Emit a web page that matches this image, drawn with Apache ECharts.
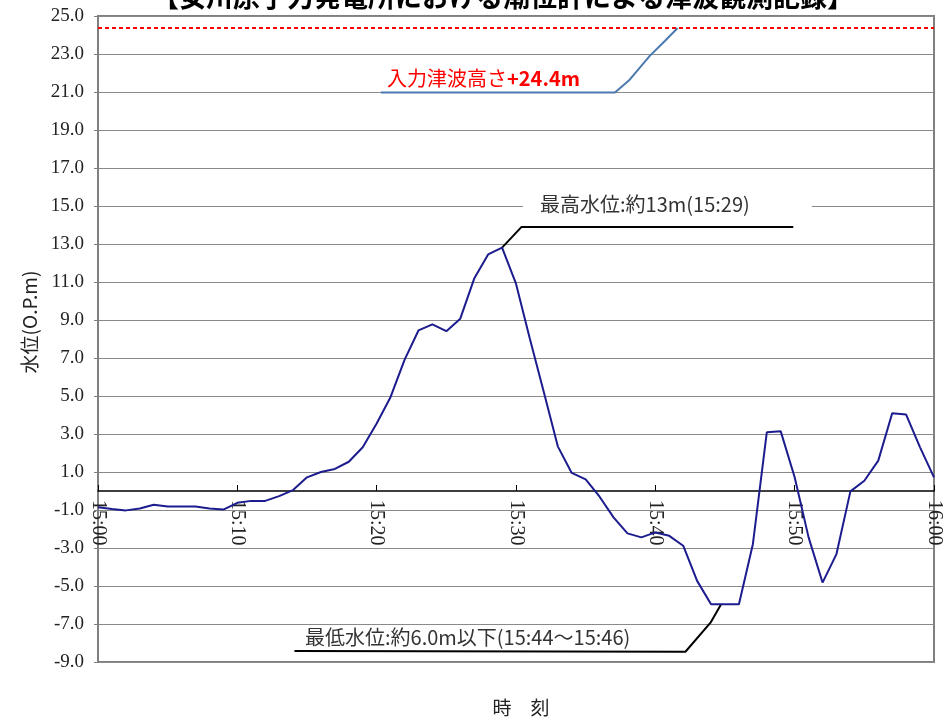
<!DOCTYPE html>
<html><head><meta charset="utf-8">
<script src="https://cdn.jsdelivr.net/npm/echarts@6/dist/echarts.min.js"></script>
<style>html,body{margin:0;padding:0;background:#fff}#c{width:945px;height:720px}</style>
</head><body><div id="c"></div>
<script>
// observed water level (O.P.m) every minute from 15:00 to 16:00
const minutes = [0,1,2,3,4,5,6,7,8,9,10,11,12,13,14,15,16,17,18,19,20,21,22,23,24,25,26,27,28,29,30,31,32,33,34,35,36,37,38,39,40,41,42,43,44,45,46,47,48,49,50,51,52,53,54,55,56,57,58,59,60];
const levels = [-0.85,-0.95,-1.02,-0.92,-0.72,-0.82,-0.82,-0.82,-0.92,-0.98,-0.62,-0.52,-0.52,-0.27,0.05,0.72,1.0,1.16,1.54,2.3,3.55,4.95,6.9,8.45,8.77,8.41,9.07,11.18,12.45,12.81,10.91,8.0,5.2,2.35,0.95,0.61,-0.3,-1.39,-2.23,-2.44,-2.18,-2.36,-2.88,-4.73,-5.96,-5.96,-5.96,-2.8,3.09,3.14,0.72,-2.44,-4.82,-3.32,-0.02,0.54,1.6,4.09,4.02,2.3,0.72];
const tickLabels = ['15:00','15:10','15:20','15:30','15:40','15:50','16:00'];
const yTicks = {min: -9, max: 25, step: 2};
// input tsunami height schematic
const inputMinutes = [20.3, 37.1, 38.1, 39.6, 40.7, 41.6];
const inputLevels = [20.97, 20.97, 21.6, 22.9, 23.7, 24.37];
const inputTsunamiHeight = 24.4;
// annotation leader lines
const maxLeaderMinutes = [29.0, 30.4, 49.9];
const maxLeaderLevels = [12.81, 13.9, 13.9];
const minLeaderMinutes = [44.7, 43.96, 42.16, 14.1];
const minLeaderLevels = [-5.99, -6.93, -8.46, -8.42];

const zip = (a, b) => a.map((v, i) => [v, b[i]]);
const CJK = 'Noto Sans CJK JP';
const SERIF = 'Liberation Serif';

const W = 945, H = 720;
const gridBox = {left: 98, right: 11, top: 16, bottom: 58};
const plotH = H - gridBox.top - gridBox.bottom;
// place x axis on the zero line
const xOffset = -plotH * (0 - yTicks.min) / (yTicks.max - yTicks.min);

const chart = echarts.init(document.getElementById('c'), null, {renderer: 'canvas'});
chart.setOption({
  animation: false,
  backgroundColor: '#fff',
  grid: Object.assign({show: true, borderColor: '#808080', borderWidth: 2, backgroundColor: 'transparent'}, gridBox),
  xAxis: {
    type: 'value', min: 0, max: 60, interval: 10, position: 'bottom', offset: xOffset,
    axisLine: {show: true, onZero: false, lineStyle: {color: '#000', width: 1.5}},
    axisTick: {show: true, inside: true, length: 6, lineStyle: {color: '#000'}},
    splitLine: {show: false},
    axisLabel: {rotate: -90, margin: 9, fontSize: 20, fontFamily: SERIF, color: '#222',
      formatter: v => tickLabels[Math.round(v / 10)]}
  },
  yAxis: {
    type: 'value', min: yTicks.min, max: yTicks.max, interval: yTicks.step,
    axisLine: {show: true, lineStyle: {color: '#808080', width: 2}},
    axisTick: {show: true, length: 4, lineStyle: {color: '#808080'}},
    splitLine: {show: true, lineStyle: {color: '#8a8a8a', width: 1.2}},
    axisLabel: {margin: 14, fontSize: 19, fontFamily: SERIF, color: '#222', formatter: v => v.toFixed(1)}
  },
  series: [
    {
      type: 'line', data: zip(minutes, levels), showSymbol: false, symbol: 'none',
      lineStyle: {color: '#1c1c8e', width: 2}, z: 5,
      markLine: {
        silent: true, symbol: 'none', label: {show: false},
        lineStyle: {color: '#ff0000', width: 2, type: [4, 3]},
        data: [{yAxis: inputTsunamiHeight}]
      }
    },
    {
      type: 'line', data: zip(inputMinutes, inputLevels), showSymbol: false, symbol: 'none',
      lineStyle: {color: '#4a7ab0', width: 2}, z: 4
    },
    {
      type: 'line', data: zip(maxLeaderMinutes, maxLeaderLevels), showSymbol: false, symbol: 'none',
      lineStyle: {color: '#000', width: 2}, z: 4
    },
    {
      type: 'line', data: zip(minLeaderMinutes, minLeaderLevels), showSymbol: false, symbol: 'none',
      lineStyle: {color: '#000', width: 2}, z: 4
    }
  ],
  graphic: [
    {type: 'text', x: 503, y: 10, z: 10, style: {text: '【女川原子力発電所における潮位計による津波観測記録】',
      font: 'bold 27px ' + CJK, fill: '#000', textAlign: 'center', textVerticalAlign: 'bottom'}},
    {type: 'text', x: 387, y: 78, z: 10, style: {text: '{a|入力津波高さ}{b|+24.4m}', textAlign: 'left', textVerticalAlign: 'middle',
      rich: {a: {fontSize: 20, fontFamily: CJK, fill: '#ff0000', color: '#ff0000'},
             b: {fontSize: 20, fontFamily: CJK, fontWeight: 'bold', fill: '#ff0000', color: '#ff0000'}}}},
    {type: 'text', x: 523, y: 204, z: 10, style: {text: '最高水位:約13m(15:29)', font: '20px ' + CJK, fill: '#333',
      textAlign: 'left', textVerticalAlign: 'middle', backgroundColor: '#fff', padding: [3, 62, 3, 17]}},
    {type: 'text', x: 305, y: 637, z: 10, style: {text: '最低水位:約6.0m以下(15:44～15:46)', font: '20px ' + CJK, fill: '#333',
      textAlign: 'left', textVerticalAlign: 'middle'}},
    {type: 'text', x: 30, y: 322, rotation: Math.PI / 2, z: 10, style: {text: '水位(O.P.m)', font: '19px ' + CJK, fill: '#222',
      textAlign: 'center', textVerticalAlign: 'middle'}},
    {type: 'text', x: 521, y: 708, z: 10, style: {text: '時　刻', font: '19px ' + CJK, fill: '#222',
      textAlign: 'center', textVerticalAlign: 'middle'}}
  ]
});
</script></body></html>
